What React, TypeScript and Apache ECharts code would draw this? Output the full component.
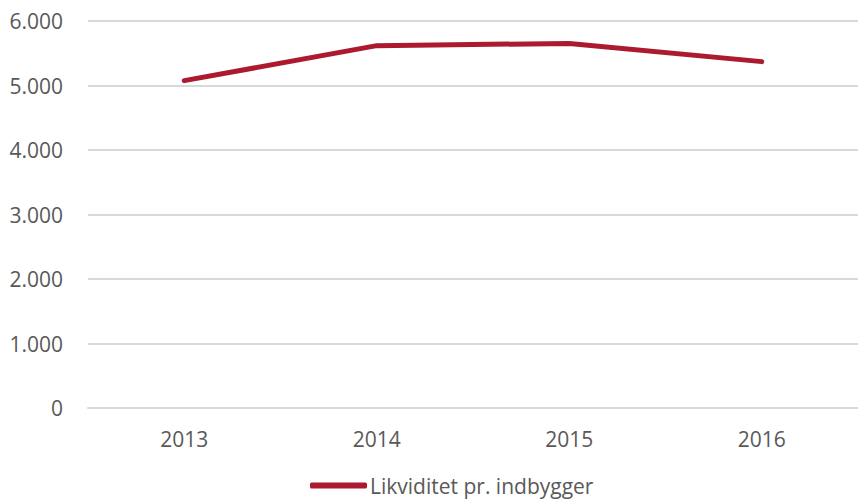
import React, { useEffect, useRef } from "react";
import * as echarts from "echarts";

const categories = ["2013", "2014", "2015", "2016"];
const seriesName = "Likviditet pr. indbygger";
const values = [5075, 5618, 5652, 5370];
const yTicks = { min: 0, max: 6000, interval: 1000 };

const fmt = (v: number) => {
  const s = String(Math.round(v));
  return s.replace(/\B(?=(\d{3})+(?!\d))/g, ".");
};

export default function App() {
  const ref = useRef<HTMLDivElement>(null);
  useEffect(() => {
    const chart = echarts.init(ref.current!, undefined, { renderer: "svg" });
    const font = "'Open Sans', 'Noto Sans', sans-serif";
    chart.setOption({
      animation: false,
      textStyle: { fontFamily: font },
      grid: { left: 88, right: 0, top: 21, bottom: 93, containLabel: false },
      xAxis: {
        type: "category",
        data: categories,
        boundaryGap: true,
        axisLine: { show: true, lineStyle: { color: "#d9d9d9", width: 2 } },
        axisTick: { show: false },
        axisLabel: { color: "#595959", fontSize: 21, margin: 20, fontFamily: font },
        splitLine: { show: false },
      },
      yAxis: {
        type: "value",
        min: yTicks.min,
        max: yTicks.max,
        interval: yTicks.interval,
        axisLine: { show: false },
        axisTick: { show: false },
        axisLabel: {
          color: "#595959",
          fontSize: 21,
          margin: 25,
          fontFamily: font,
          formatter: (v: number) => fmt(v),
        },
        splitLine: { lineStyle: { color: "#d9d9d9", width: 2 } },
      },
      legend: {
        show: true,
        bottom: 0,
        left: 305,
        icon: "roundRect",
        itemWidth: 57,
        itemHeight: 6,
        textStyle: { color: "#595959", fontSize: 21, fontFamily: font, padding: [0, 0, 0, -2] },
        data: [seriesName],
      },
      series: [
        {
          name: seriesName,
          type: "line",
          data: values,
          symbol: "none",
          lineStyle: { color: "#AC1A30", width: 5, cap: "round", join: "round" },
          itemStyle: { color: "#AC1A30" },
        },
      ],
    });
    return () => chart.dispose();
  }, []);
  return <div ref={ref} style={{ width: 858, height: 501, position: "absolute", left: 0, top: 0 }} />;
}
